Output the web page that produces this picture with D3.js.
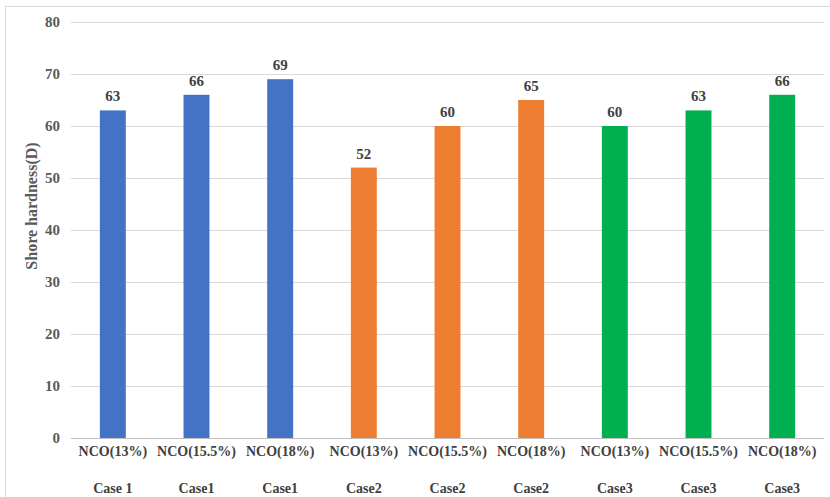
<!DOCTYPE html>
<html>
<head>
<meta charset="utf-8">
<script src="https://cdn.jsdelivr.net/npm/d3@7"></script>
<style>
  html, body { margin: 0; padding: 0; background: #fff; }
  svg { display: block; }
</style>
</head>
<body>
<svg id="chart" width="830" height="497"></svg>
<script>
// Shore hardness for each NCO content, grouped by case
const categories = ["NCO(13%)", "NCO(15.5%)", "NCO(18%)", "NCO(13%)", "NCO(15.5%)", "NCO(18%)", "NCO(13%)", "NCO(15.5%)", "NCO(18%)"];
const caseLabels = ["Case 1", "Case1", "Case1", "Case2", "Case2", "Case2", "Case3", "Case3", "Case3"];
const hardness = [63, 66, 69, 52, 60, 65, 60, 63, 66];
const groups = ["Case1", "Case1", "Case1", "Case2", "Case2", "Case2", "Case3", "Case3", "Case3"];
const yTicks = [0, 10, 20, 30, 40, 50, 60, 70, 80];
const yTitle = "Shore hardness(D)";

const colors = { Case1: "#4472C4", Case2: "#ED7D31", Case3: "#00B050" };

const svg = d3.select("#chart");
const W = 830, H = 497;
const margin = { left: 71, right: 6, top: 22, bottom: 59 };
const plotL = margin.left, plotR = W - margin.right;
const plotT = margin.top, plotB = H - margin.bottom;

// outer frame
svg.append("rect")
  .attr("x", 5.5).attr("y", 6.5)
  .attr("width", W).attr("height", H)
  .attr("fill", "none").attr("stroke", "#d9d9d9");

const idx = d3.range(categories.length);
const x = d3.scaleBand().domain(idx).range([plotL, plotR]).paddingInner(0.69).paddingOuter(0.345);
const y = d3.scaleLinear().domain([0, 80]).range([plotB, plotT]);

const font = "'Liberation Serif', 'Times New Roman', serif";

// horizontal gridlines
svg.append("g").selectAll("line")
  .data(yTicks.filter(t => t > 0))
  .join("line")
  .attr("x1", plotL).attr("x2", plotR)
  .attr("y1", d => Math.round(y(d)) + 0.5).attr("y2", d => Math.round(y(d)) + 0.5)
  .attr("stroke", "#d9d9d9").attr("stroke-width", 1);

// y axis tick labels
const yAxis = d3.axisLeft(y).tickValues(yTicks).tickSize(0).tickPadding(0);
const yg = svg.append("g").attr("transform", `translate(${plotL - 11},0)`).call(yAxis);
yg.select(".domain").remove();
yg.selectAll("text")
  .attr("font-family", font).attr("font-weight", "bold")
  .attr("font-size", 15).attr("fill", "#595959");

// y axis title
svg.append("text")
  .attr("transform", `translate(37,206) rotate(-90)`)
  .attr("text-anchor", "middle")
  .attr("font-family", font).attr("font-weight", "bold")
  .attr("font-size", 16).attr("fill", "#595959")
  .text(yTitle);

// bars
svg.append("g").selectAll("rect")
  .data(idx)
  .join("rect")
  .attr("x", i => x(i))
  .attr("width", x.bandwidth())
  .attr("y", i => y(hardness[i]))
  .attr("height", i => y(0) - y(hardness[i]))
  .attr("fill", i => colors[groups[i]]);

// value labels
svg.append("g").selectAll("text")
  .data(idx)
  .join("text")
  .attr("x", i => x(i) + x.bandwidth() / 2)
  .attr("y", i => y(hardness[i]) - 9)
  .attr("text-anchor", "middle")
  .attr("font-family", font).attr("font-weight", "bold")
  .attr("font-size", 15).attr("fill", "#404040")
  .text(i => hardness[i]);

// category axis line
svg.append("line")
  .attr("x1", plotL).attr("x2", plotR)
  .attr("y1", Math.round(y(0)) + 0.5).attr("y2", Math.round(y(0)) + 0.5)
  .attr("stroke", "#bfbfbf").attr("stroke-width", 1);

// category labels (two rows)
const xAxis = d3.axisBottom(x).tickSize(0).tickPadding(0).tickFormat(i => categories[i]);
const xg = svg.append("g").attr("transform", `translate(0,${plotB + 8})`).call(xAxis);
xg.select(".domain").remove();
xg.selectAll("text")
  .attr("font-family", font).attr("font-weight", "bold")
  .attr("font-size", 14).attr("fill", "#404040");

svg.append("g").selectAll("text")
  .data(idx)
  .join("text")
  .attr("x", i => x(i) + x.bandwidth() / 2)
  .attr("y", plotB + 55)
  .attr("text-anchor", "middle")
  .attr("font-family", font).attr("font-weight", "bold")
  .attr("font-size", 14).attr("fill", "#404040")
  .text(i => caseLabels[i]);
</script>
</body>
</html>
